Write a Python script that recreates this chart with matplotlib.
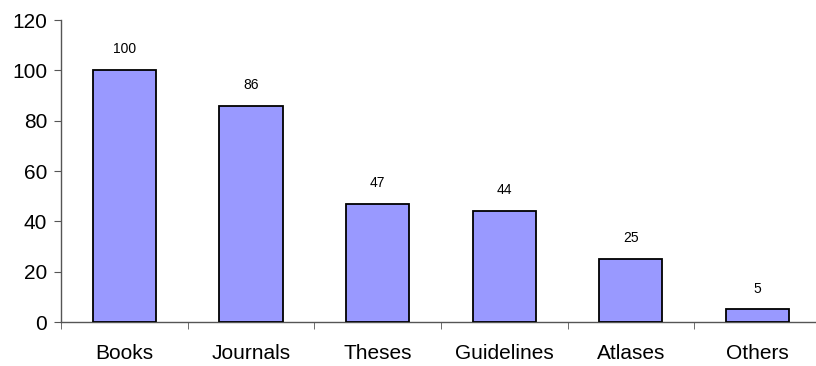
import numpy as np
import matplotlib.pyplot as plt
from matplotlib.ticker import FixedLocator

categories = ["Books", "Journals", "Theses", "Guidelines", "Atlases", "Others"]
counts = [100, 86, 47, 44, 25, 5]

plt.rcParams['font.family'] = ['Liberation Sans', 'DejaVu Sans']

fig = plt.figure(figsize=(8.16, 3.66), dpi=100)
ax = fig.add_axes([0.0748, 0.1202, 0.931, 0.825])

x = np.arange(len(categories))
bars = ax.bar(x, counts, width=0.5, color="#9999FF", edgecolor="black", linewidth=1.3, zorder=3)

for xi, c in zip(x, counts):
    ax.annotate(str(c), (xi, c), xytext=(0, 10), textcoords="offset points",
                ha="center", va="bottom", fontsize=10)

ax.set_xlim(-0.5, len(categories) - 0.5)
ax.set_ylim(0, 120)
ax.set_yticks(np.arange(0, 121, 20))
ax.set_xticks(x)
ax.set_xticklabels(categories)
ax.xaxis.set_minor_locator(FixedLocator(np.arange(-0.5, len(categories), 1.0)))
ax.tick_params(axis="x", which="major", length=0, pad=16, labelsize=15)
ax.tick_params(axis="x", which="minor", length=5, direction="out", color="#555555")
ax.tick_params(axis="y", length=5, direction="out", color="#555555", labelsize=15, pad=5)

for side in ("top", "right"):
    ax.spines[side].set_visible(False)
for side in ("left", "bottom"):
    ax.spines[side].set_color("#555555")
    ax.spines[side].set_linewidth(1.0)

fig.savefig("out.png", dpi=100)
